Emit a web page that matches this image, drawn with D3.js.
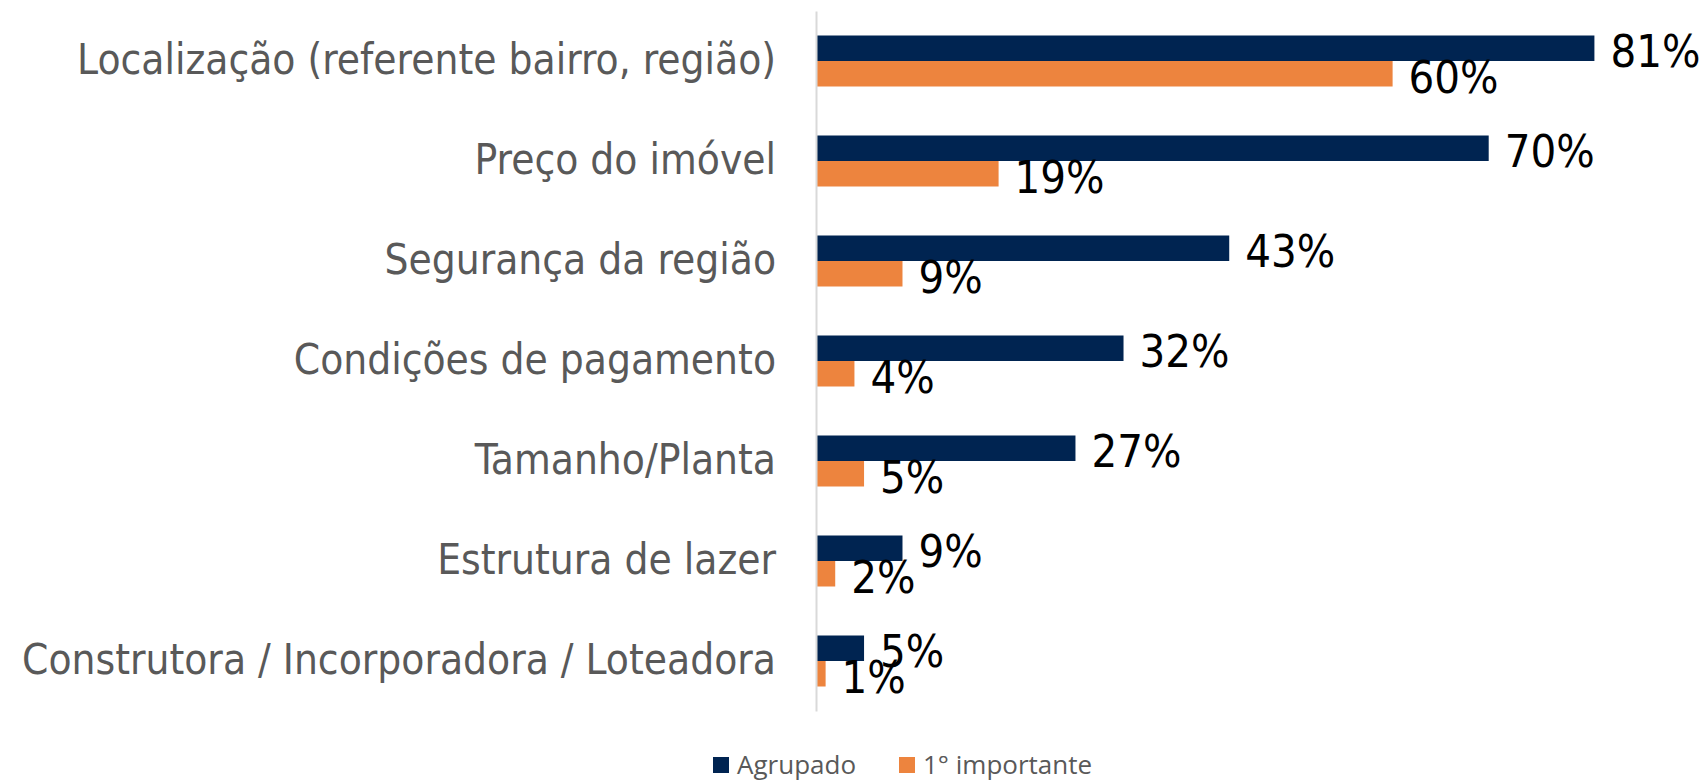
<!DOCTYPE html>
<html>
<head>
<meta charset="utf-8">
<script src="https://cdnjs.cloudflare.com/ajax/libs/d3/7.8.5/d3.min.js"></script>
<style>
  body { margin: 0; background: #fff; }
  svg { display: block; }
</style>
</head>
<body>
<div id="chart"></div>
<script>
var width = 1706;
var height = 783;

var categories = [
  "Localização (referente bairro, região)",
  "Preço do imóvel",
  "Segurança da região",
  "Condições de pagamento",
  "Tamanho/Planta",
  "Estrutura de lazer",
  "Construtora / Incorporadora / Loteadora"
];
var seriesNames = ["Agrupado", "1° importante"];
var agrupado = [81, 70, 43, 32, 27, 9, 5];
var importante = [60, 19, 9, 4, 5, 2, 1];
var colors = ["#002451", "#ED843E"];

var svg = d3.select("#chart")
  .append("svg")
  .attr("width", width)
  .attr("height", height);

// value axis: 0 sits at the vertical line
var x = d3.scaleLinear()
  .domain([0, 100])
  .range([816, 1777]);

var y = d3.scaleBand()
  .domain(categories)
  .range([11, 711]);

var inner = d3.scaleBand()
  .domain(seriesNames)
  .range([-25.5, 25.5]);

var rows = categories.map(function(c, i) {
  return { cat: c, values: [agrupado[i], importante[i]] };
});

var g = svg.selectAll(".row")
  .data(rows)
  .enter()
  .append("g")
  .attr("class", "row")
  .attr("transform", function(d) { return "translate(0," + (y(d.cat) + y.bandwidth() / 2) + ")"; });

function pairs(d) {
  return d.values.map(function(v, j) { return { v: v, s: seriesNames[j], j: j }; });
}

g.selectAll("rect")
  .data(pairs)
  .enter()
  .append("rect")
  .attr("x", x(0))
  .attr("y", function(d) { return inner(d.s); })
  .attr("width", function(d) { return x(d.v) - x(0); })
  .attr("height", inner.bandwidth())
  .attr("fill", function(d) { return colors[d.j]; });

g.selectAll(".val")
  .data(pairs)
  .enter()
  .append("text")
  .attr("class", "val")
  .attr("x", function(d) { return x(d.v) + 16; })
  .attr("y", function(d) { return inner(d.s) + inner.bandwidth() / 2 + 3; })
  .attr("dy", "0.35em")
  .style("font-family", "'DejaVu Sans Condensed', 'DejaVu Sans', sans-serif")
  .style("font-size", "45px")
  .style("fill", "#000")
  .text(function(d) { return d.v + "%"; });

// category axis
var yAxis = d3.axisLeft(y).tickSize(0).tickPadding(40);
var ax = svg.append("g")
  .attr("transform", "translate(" + x(0) + ",0)")
  .call(yAxis);
ax.select(".domain").attr("stroke", "#d9d9d9").attr("stroke-width", 2);
ax.selectAll("text")
  .style("font-family", "'DejaVu Sans Condensed', 'DejaVu Sans', sans-serif")
  .style("font-size", "42px")
  .style("fill", "#595959");

// legend
var legendX = [713, 899];
var leg = svg.selectAll(".leg")
  .data(seriesNames)
  .enter()
  .append("g")
  .attr("class", "leg")
  .attr("transform", function(d, i) { return "translate(" + legendX[i] + ",757)"; });
leg.append("rect")
  .attr("width", 16)
  .attr("height", 16)
  .attr("fill", function(d, i) { return colors[i]; });
leg.append("text")
  .attr("x", 24)
  .attr("y", 8)
  .attr("dy", "0.35em")
  .style("font-family", "'Open Sans', sans-serif")
  .style("font-size", "26px")
  .style("fill", "#595959")
  .text(function(d) { return d; });
</script>
</body>
</html>
